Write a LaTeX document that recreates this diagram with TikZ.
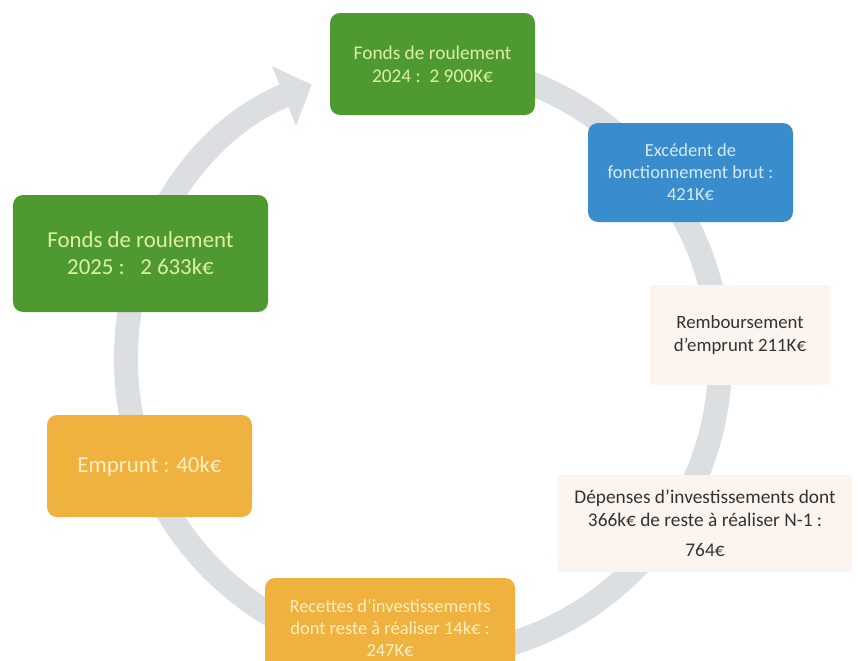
\documentclass[tikz,border=0pt]{standalone}
\usepackage{fontspec}
\setmainfont{Carlito}
\usetikzlibrary{arrows.meta}
\definecolor{vert}{HTML}{4F9A30}
\definecolor{vertTxt}{HTML}{DDF0A4}
\definecolor{bleu}{HTML}{3A8DCD}
\definecolor{bleuTxt}{HTML}{D6EAF8}
\definecolor{orange}{HTML}{F0B23E}
\definecolor{orangeTxt}{HTML}{FFEFC4}
\definecolor{creme}{HTML}{FCF4EE}
\definecolor{anneau}{HTML}{DCDFE2}
\begin{document}
\begin{tikzpicture}[line join=round, line cap=round,
	boite/.style={rounded corners=0.2cm, align=center, inner sep=0pt, font=\fontsize{11}{13}\selectfont},
	vertbox/.style={boite, fill=vert, text=vertTxt},
	bleubox/.style={boite, fill=bleu, text=bleuTxt},
	orangebox/.style={boite, fill=orange, text=orangeTxt},
	cremebox/.style={boite, rounded corners=0.05cm, fill=creme, text=black!80}]
	\def\cx{8.46} \def\cy{-7.2} \def\R{5.94} % centre et rayon
	\useasboundingbox (0,0) rectangle (17.16,-13.22);
	% anneau
	\draw[anneau, line width=0.48cm, line cap=butt, -{Triangle[width=1.25cm,length=0.6cm]}]
		([shift={(100:\R)}]\cx,\cy) arc[start angle=100, end angle=-248, radius=\R];
	% boites
	\node[vertbox, minimum width=4.1cm, minimum height=2.04cm] (fr24) at (8.65,-1.28)
		{Fonds de roulement\\2024 :\ \ 2 900K€};
	\node[bleubox, minimum width=4.1cm, minimum height=1.98cm, font=\fontsize{10.5}{12.5}\selectfont] (ebf) at (13.81,-3.45)
		{Excédent de\\fonctionnement brut :\\421K€};
	\node[cremebox, minimum width=3.6cm, minimum height=2.0cm, font=\fontsize{10.7}{13}\selectfont] (remb) at (14.8,-6.7)
		{Remboursement\\d’emprunt 211K€};
	\node[cremebox, minimum width=5.88cm, minimum height=1.94cm] (dep) at (14.1,-10.47)
		{Dépenses d’investissements dont\\366k€ de reste à réaliser N-1 :\\[4pt]764€};
	\node[orangebox, minimum width=5.0cm, minimum height=2.0cm, font=\fontsize{10.5}{12.5}\selectfont] (rec) at (7.8,-12.56)
		{Recettes d’investissements\\dont reste à réaliser 14k€ :\\247K€};
	\node[orangebox, minimum width=4.1cm, minimum height=2.04cm, font=\fontsize{13}{15}\selectfont] (emp) at (2.99,-9.32)
		{Emprunt : 40k€};
	\node[vertbox, minimum width=5.1cm, minimum height=2.34cm, font=\fontsize{13}{15.5}\selectfont] (fr25) at (2.81,-5.07)
		{Fonds de roulement\\2025 :\ \ \ 2 633k€};
\end{tikzpicture}
\end{document}
